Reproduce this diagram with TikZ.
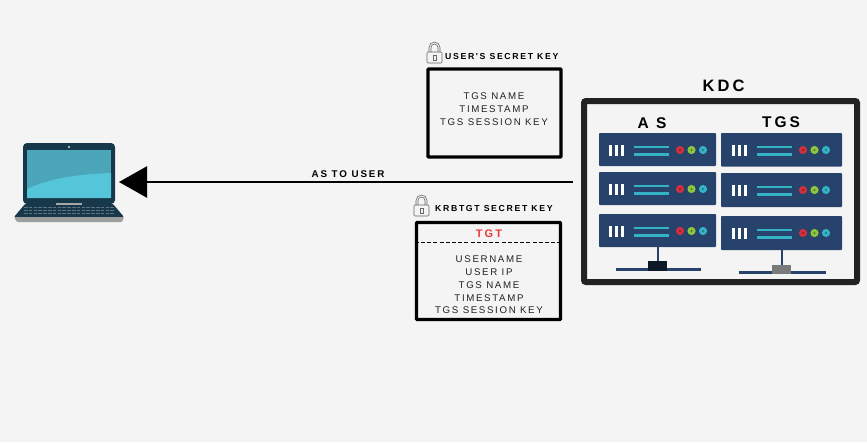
\documentclass[tikz,border=0pt]{standalone}
\usepackage{fontspec}
\setmainfont{Liberation Sans}
\newfontfamily\labelfont[LetterSpace=17]{Liberation Sans}
\newfontfamily\headfont[LetterSpace=19]{Liberation Sans Bold}
\usetikzlibrary{arrows.meta}
\definecolor{pagebg}{HTML}{F4F4F4}
\definecolor{navy}{HTML}{27426B}
\definecolor{ink}{HTML}{222222}
\definecolor{teal}{HTML}{35B3C6}
\definecolor{ledred}{HTML}{D0303F}
\definecolor{ledgreen}{HTML}{8CC63F}
\definecolor{lapdark}{HTML}{17384A}
\definecolor{scrA}{HTML}{4AA6B8}
\definecolor{scrB}{HTML}{55C6D9}
\definecolor{tgtred}{HTML}{E8393A}
\tikzset{
  x=1pt,y=-1pt,
  msgbox/.style={draw=black,line width=3.4pt,fill=pagebg,rounded corners=0.8pt,inner sep=0pt,minimum width=#1},
  small/.style={font=\labelfont\fontsize{9.7}{13}\selectfont,align=center,text=ink,inner sep=0pt},
  keylabel/.style={font=\headfont\fontsize{8.7}{10}\selectfont,text=black,inner sep=0pt,anchor=west},
  head/.style={font=\headfont\fontsize{16.5}{18}\selectfont,text=black,inner sep=0pt},
  rackrow/.style={fill=navy,rounded corners=0.8pt},
  lockline/.style={draw=black!60,line width=0.6pt},
  pics/srv/.style n args={4}{code={%
    \fill[rackrow] (0,0) rectangle (#1,#2);
    \foreach \b in {0,6.2,12.4}{\fill[white] (#3+\b,12) rectangle ++(2.8,10.5);}
    \fill[teal] (#3+25,12.5) rectangle ++(35,2.7);
    \fill[teal] (#3+25,19.8) rectangle ++(35,2.7);
    \fill[ledred]  (#3+71,17) circle (4.1);
    \fill[ledgreen](#3+82.5,17) circle (4.1);
    \fill[teal]    (#3+94,17) circle (4.1);
    \fill[ledred!65!black] (#3+71,17) circle (1.2);
    \fill[ledgreen!60!black] (#3+82.5,17) circle (1.2);
    \fill[teal!65!black] (#3+94,17) circle (1.2);
  }},
  pics/lock/.style={code={%
    \draw[lockline] (2,10) -- (2,5.5) arc[start angle=180,end angle=360,radius=5.5] -- (13,10);
    \draw[lockline] (4,10) -- (4,5.5) arc[start angle=180,end angle=360,radius=3.5] -- (11,10);
    \draw[lockline,rounded corners=1pt] (0,10) rectangle (15,21);
    \draw[lockline] (6,13.5) rectangle (9,18);
  }}
}
\begin{document}
\begin{tikzpicture}
\fill[pagebg] (0,0) rectangle (867,442);
\useasboundingbox (0,0) rectangle (867,442);

% laptop
\coordinate (laptopport) at (119,182);
\node[inner sep=0pt,minimum width=110pt,minimum height=80pt] (laptop) at (69,182.5) {};
\fill[lapdark,rounded corners=1pt] (25,204) -- (113,204) -- (124,217) -- (14,217) -- cycle;
\foreach \r in {207.5,210.5,213.5}{\draw[lapdark!70!white,line width=1.3pt,dash pattern=on 3.5pt off 1.3pt] (24,\r) -- (114,\r);}
\fill[black!38,rounded corners=1pt] (14,217) -- (124,217) -- (122,222) -- (17,222) -- cycle;
\fill[lapdark,rounded corners=4pt] (23,143) rectangle (115,204);
\fill[black!35] (56,203) rectangle (82,205);
\fill[scrA] (27,150) rectangle (111,198);
\fill[scrB] (27,198) -- (27,189) .. controls (50,178) and (80,174) .. (111,173) -- (111,198) -- cycle;
\fill[white!85!lapdark] (69,147) circle (1.2);

% KDC frame
\node[draw=ink,line width=6pt,fill=pagebg,rounded corners=2pt,minimum width=273pt,minimum height=181pt,inner sep=0pt] (kdc) at (720.5,191.5) {};
\node[head] (kdctitle) at (723.5,86) {KDC};
\node[head,font=\headfont\fontsize{15.5}{17}\selectfont] (astitle) at (652,123.5) {A S};
\node[head,font=\headfont\fontsize{15.5}{17}\selectfont] (tgstitle) at (781,122) {TGS};

% AS rack
\pic at (599,133) {srv={117}{33}{10}{}};
\pic at (599,172) {srv={117}{33}{10}{}};
\pic at (599,214) {srv={117}{33}{10}{}};
% TGS rack
\pic at (721,133) {srv={121}{33.5}{11}{}};
\pic at (721,173) {srv={121}{34}{11}{}};
\pic at (721,216) {srv={121}{34}{11}{}};

% stands
\draw[navy,line width=2pt] (657.5,247) -- (657.5,266);
\fill[navy] (616,268) rectangle (701,270.5);
\fill[black!50!navy!70!black] (648,261) rectangle (667,270.5);
\draw[navy,line width=2pt] (781.5,250) -- (781.5,268);
\fill[navy] (739,271) rectangle (826,274);
\fill[black!52] (772,265) rectangle (791,274);

% message boxes
\node[msgbox=133pt,minimum height=88pt] (ubox) at (494.5,113) {};
\node[small] (utext) at (494,109.3) {TGS NAME\\TIMESTAMP\\TGS SESSION KEY};
\pic at (427,42) {lock};
\node[keylabel] (ulabel) at (445,56.5) {USER'S SECRET KEY};

\node[msgbox=144pt,minimum height=97pt] (kbox) at (488.5,271) {};
\draw[black,line width=1pt,dash pattern=on 4pt off 2.2pt] (kbox.west |- 0,242) -- (kbox.east |- 0,242);
\node[font=\headfont\fontsize{11}{12}\selectfont,text=tgtred,inner sep=0pt] (tgt) at (489,234) {TGT};
\node[small,font=\labelfont\fontsize{9.7}{12.8}\selectfont] (ktext) at (489,285) {USERNAME\\USER IP\\TGS NAME\\TIMESTAMP\\TGS SESSION KEY};
\pic at (414,195) {lock};
\node[keylabel] (klabel) at (435,209) {KRBTGT SECRET KEY};

% arrow
\coordinate (kdcport) at (573,182);
\draw[black,line width=2.6pt,-{Triangle[length=28pt,width=31pt]}] (kdcport) -- (laptopport);
\node[font=\headfont\fontsize{9.8}{11}\selectfont,inner sep=0pt] (arrowlabel) at (348,174.5) {AS TO USER};
\end{tikzpicture}
\end{document}
